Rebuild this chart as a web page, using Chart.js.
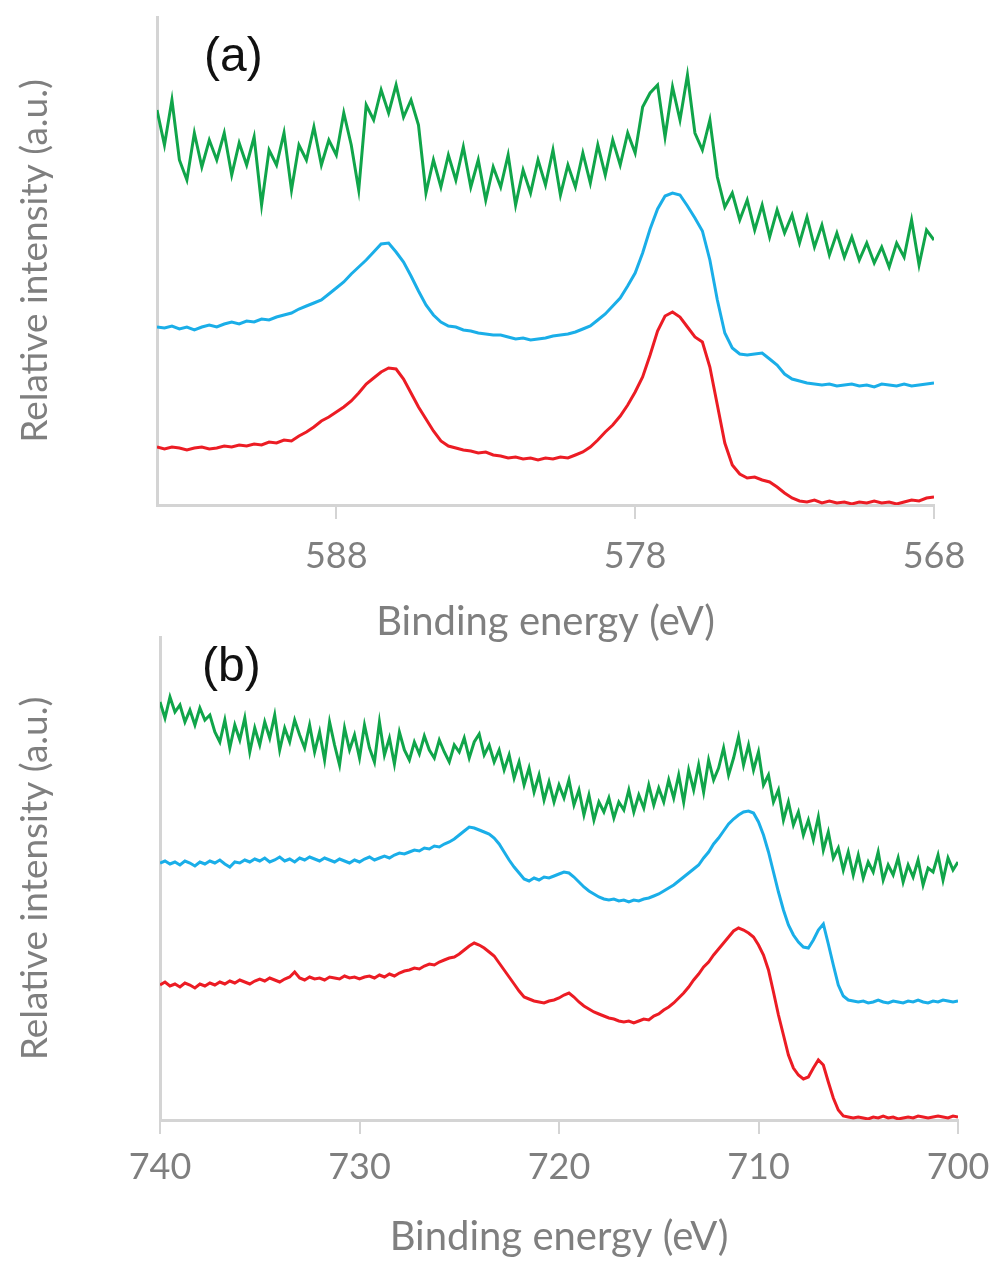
<!DOCTYPE html>
<html>
<head>
<meta charset="utf-8">
<script src="https://cdn.jsdelivr.net/npm/chart.js@4.4.1/dist/chart.umd.min.js"></script>
<style>
body{margin:0;background:#fff;width:994px;height:1264px;position:relative;overflow:hidden}
.box{position:absolute;left:0;width:994px}
.lbl{position:absolute;font-family:"Liberation Sans",Arial,sans-serif;font-size:48px;color:#111;line-height:1}
</style>
</head>
<body>
<div class="box" style="top:0;height:650px"><canvas id="chartA" width="994" height="650"></canvas></div>
<div class="box" style="top:630px;height:634px"><canvas id="chartB" width="994" height="634"></canvas></div>
<div class="lbl" style="left:204px;top:31px">(a)</div>
<div class="lbl" style="left:202px;top:641px">(b)</div>
<script>
/* panel (a) : 594 - 568 eV */
const energyA=[594,593.75,593.5,593.25,593,592.75,592.5,592.25,592,591.75,591.5,591.25,591,590.75,590.5,590.25,590,589.75,589.5,589.25,589,588.75,588.5,588.25,588,587.75,587.5,587.25,587,586.75,586.5,586.25,586,585.75,585.5,585.25,585,584.75,584.5,584.25,584,583.75,583.5,583.25,583,582.75,582.5,582.25,582,581.75,581.5,581.25,581,580.75,580.5,580.25,580,579.75,579.5,579.25,579,578.75,578.5,578.25,578,577.75,577.5,577.25,577,576.75,576.5,576.25,576,575.75,575.5,575.25,575,574.75,574.5,574.25,574,573.75,573.5,573.25,573,572.75,572.5,572.25,572,571.75,571.5,571.25,571,570.75,570.5,570.25,570,569.75,569.5,569.25,569,568.75,568.5,568.25,568];
const redA=[58,56,58,57,55,57,58,56,57,59,
58,60,59,61,60,63,62,65,64,69,
73,78,84,88,93,98,104,112,121,127,
133,137,136,126,112,98,86,74,64,59,
57,55,54,52,53,50,49,47,48,46,
47,45,47,46,48,47,50,53,58,65,
73,80,89,100,113,128,150,174,189,193,
188,178,168,163,138,100,62,40,31,27,
28,25,23,18,12,7,4,3,5,2,
4,2,3,1,3,2,4,2,3,1,
3,5,4,7,8];
const blueA=[178,177,179,176,178,175,178,180,178,181,
183,181,184,183,186,185,188,190,192,196,
199,202,205,211,217,223,231,238,245,253,
261,262,253,243,229,214,200,190,183,179,
178,175,174,172,171,170,170,168,166,167,
165,166,167,169,170,171,173,176,179,185,
191,199,207,219,232,252,276,296,309,312,
310,299,287,274,245,205,172,157,151,150,
151,152,146,140,131,126,124,122,121,120,
121,119,120,121,119,120,118,121,120,119,
121,119,120,121,122];
const greenA=[395,360,405,345,325,372,338,365,345,372,
330,362,340,368,300,355,340,372,315,360,
345,378,340,365,350,392,360,315,400,385,
415,392,420,388,405,380,312,345,318,350,
325,358,318,345,305,338,318,350,300,335,
312,345,320,355,310,340,318,352,322,360,
330,365,340,372,352,398,412,420,368,418,
385,430,372,355,385,328,298,312,285,305,
275,300,268,295,272,290,262,288,258,280,
250,272,248,268,245,262,242,258,238,262,
248,285,240,275,265];
const ticksA=[588,578,568];

/* panel (b) : 740 - 700 eV */
const energyB=[740,739.75,739.5,739.25,739,738.75,738.5,738.25,738,737.75,737.5,737.25,737,736.75,736.5,736.25,736,735.75,735.5,735.25,735,734.75,734.5,734.25,734,733.75,733.5,733.25,733,732.75,732.5,732.25,732,731.75,731.5,731.25,731,730.75,730.5,730.25,730,729.75,729.5,729.25,729,728.75,728.5,728.25,728,727.75,727.5,727.25,727,726.75,726.5,726.25,726,725.75,725.5,725.25,725,724.75,724.5,724.25,724,723.75,723.5,723.25,723,722.75,722.5,722.25,722,721.75,721.5,721.25,721,720.75,720.5,720.25,720,719.75,719.5,719.25,719,718.75,718.5,718.25,718,717.75,717.5,717.25,717,716.75,716.5,716.25,716,715.75,715.5,715.25,715,714.75,714.5,714.25,714,713.75,713.5,713.25,713,712.75,712.5,712.25,712,711.75,711.5,711.25,711,710.75,710.5,710.25,710,709.75,709.5,709.25,709,708.75,708.5,708.25,708,707.75,707.5,707.25,707,706.75,706.5,706.25,706,705.75,705.5,705.25,705,704.75,704.5,704.25,704,703.75,703.5,703.25,703,702.75,702.5,702.25,702,701.75,701.5,701.25,701,700.75,700.5,700.25,700];
const redB=[135,138,134,136,133,137,135,132,136,134,
137,135,138,136,139,137,140,138,136,139,
141,139,142,140,138,141,143,148,142,140,
143,141,142,140,143,142,141,144,142,143,
141,143,144,142,145,143,146,144,147,149,
150,152,151,154,156,155,158,160,162,163,
166,170,174,177,175,172,168,164,157,150,
143,136,129,123,121,119,118,117,119,120,
122,125,127,123,118,114,111,108,106,104,
102,101,99,98,99,97,99,101,100,104,
106,110,113,117,122,127,133,140,146,153,
158,165,171,177,183,189,192,190,187,183,
175,165,150,128,105,85,65,52,45,41,
43,52,60,55,38,22,10,4,3,2,
3,2,1,3,2,4,2,3,1,2,
3,2,4,3,2,3,4,3,2,4,3];
const blueB=[257,259,256,258,255,259,257,254,258,256,
259,257,260,256,253,258,257,260,258,261,
259,262,258,260,263,259,261,258,262,260,
263,261,259,262,260,258,261,259,257,260,
258,261,263,260,262,264,262,265,267,266,
268,270,269,272,271,274,273,276,278,281,
285,289,293,292,290,288,286,282,276,268,
260,253,247,241,239,242,240,243,242,244,
246,248,247,243,238,233,229,226,223,221,
220,221,219,220,218,220,219,221,222,224,
226,229,232,235,239,243,247,251,255,262,
268,276,282,289,296,301,305,308,309,307,
298,285,268,248,228,210,195,185,178,173,
172,180,190,196,176,155,135,124,120,119,
118,119,117,118,120,118,117,119,118,117,
119,118,120,118,117,119,118,120,119,118,119];
const greenB=[418,402,423,408,415,398,410,395,412,400,
405,388,378,400,372,395,380,402,368,392,
375,398,382,405,370,392,378,400,385,372,
395,368,388,360,398,375,355,392,370,385,
362,395,372,358,398,365,382,356,388,370,
360,378,366,384,370,362,380,368,358,375,
368,382,362,378,386,365,375,358,370,350,
365,342,358,335,352,328,345,320,338,318,
335,322,340,315,330,305,325,300,318,308,
322,302,318,310,330,308,325,312,335,315,
332,318,340,322,345,318,350,330,355,328,
360,340,352,372,345,362,383,355,375,350,
368,335,345,318,330,300,318,295,308,285,
300,280,303,270,288,262,272,250,268,245,
265,242,258,248,268,240,255,245,262,238,
255,243,260,235,252,248,265,240,262,250,258];
const ticksB=[740,730,720,710,700];

const FONT="Lato, 'Open Sans', sans-serif";
const GRAY="#7f7f7f";
const AXIS="#d4d4d4";
const RED="#ec1c24", BLUE="#1aaee8", GREEN="#10a54a";

function series(energy,values,color){
return {data:energy.map((e,i)=>({x:e,y:values[i]})),borderColor:color,borderWidth:3,pointRadius:0,tension:0,fill:false};
}

function makePanel(id,energy,sets,tickVals,xmin,xmax,ymax,o){
new Chart(document.getElementById(id),{
type:"line",
data:{datasets:sets.map(s=>series(energy,s[0],s[1]))},
options:{
responsive:false,animation:false,events:[],
layout:{padding:{left:0,right:o.right,top:o.top,bottom:0}},
plugins:{legend:{display:false},tooltip:{enabled:false}},
scales:{
x:{type:"linear",reverse:true,min:xmin,max:xmax,
afterBuildTicks:s=>{s.ticks=tickVals.map(v=>({value:v}));},
afterFit:s=>{s.height=o.xh;s.paddingLeft=0;s.paddingRight=0;},
ticks:{color:GRAY,font:{family:FONT,size:36},padding:o.tp,maxRotation:0,autoSkip:false,callback:v=>String(v)},
grid:{drawOnChartArea:false,drawTicks:true,tickLength:14,color:AXIS,lineWidth:2},
border:{display:true,color:AXIS,width:3},
title:{display:true,text:"Binding energy (eV)",color:GRAY,font:{family:FONT,size:40},padding:{top:0,bottom:o.tb}}
},
y:{min:0,max:ymax,
afterFit:s=>{s.width=o.left;},
ticks:{display:false},
grid:{display:false},
border:{display:true,color:AXIS,width:3},
title:{display:true,text:"Relative intensity (a.u.)",color:GRAY,font:{family:FONT,size:37},padding:{top:13,bottom:0}}
}
}
}
});
}

makePanel("chartA",energyA,[[greenA,GREEN],[blueA,BLUE],[redA,RED]],ticksA,568,594,488,
{left:157,right:60,top:17,xh:145,tp:16,tb:4});
makePanel("chartB",energyB,[[greenB,GREEN],[blueB,BLUE],[redB,RED]],ticksB,700,740,483,
{left:160,right:36,top:7,xh:144,tp:12,tb:3});
</script>
</body>
</html>
